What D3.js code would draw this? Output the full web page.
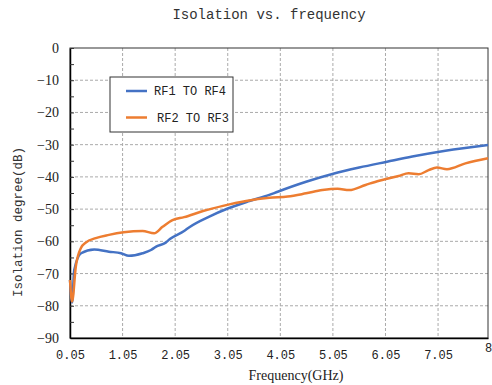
<!DOCTYPE html>
<html lang="en">
<head>
  <meta charset="UTF-8" />
  <title>Isolation vs. frequency</title>
  <script src="https://d3js.org/d3.v7.min.js"></script>
  <style>
    body { margin: 0; background: #fff; }
    .grid line { stroke: #aaa; stroke-dasharray: 3,2; stroke-width: 1; }
    .line { fill: none; stroke-width: 2.5px; stroke-linejoin: round; }
  </style>
</head>
<body>
<svg id="chart" width="492" height="385"></svg>
<script>
// RF1 TO RF4 : [GHz, dB]
const rf1rf4 = [
  [0.05, -72], [0.09, -79], [0.13, -69], [0.26, -63.7], [0.51, -62.5],
  [0.79, -63.2], [1.02, -63.7], [1.17, -64.5], [1.43, -63.7], [1.59, -62.7],
  [1.68, -61.7], [1.87, -60.4], [1.95, -59.3], [2.22, -56.8], [2.32, -55.6],
  [2.70, -52.3], [3.05, -49.8], [3.46, -47.5], [3.84, -45.6], [4.0, -44.6],
  [4.54, -41.5], [5.04, -39.1], [5.55, -37.1], [6.08, -35.3], [6.56, -33.7],
  [7.19, -31.9], [8.0, -30.1]
];
// RF2 TO RF3 : [GHz, dB]
const rf2rf3 = [
  [0.05, -72], [0.09, -78.7], [0.16, -67.9], [0.26, -62], [0.35, -60.4],
  [0.54, -59], [0.79, -58], [1.07, -57.2], [1.43, -56.8], [1.65, -57.5],
  [1.81, -55.5], [2.0, -53.4], [2.22, -52.5], [2.58, -50.6], [2.96, -49],
  [3.40, -47.5], [3.84, -46.5], [4.19, -46.1], [4.54, -45.1], [4.85, -44.1],
  [5.14, -43.7], [5.36, -44.1], [5.67, -42.5], [5.93, -41.2], [6.08, -40.6],
  [6.30, -39.7], [6.49, -38.9], [6.68, -39.2], [6.87, -37.9], [7.03, -37.1],
  [7.22, -37.6], [7.57, -35.8], [8.0, -34.2]
];
const xTicks = [0.05, 1.05, 2.05, 3.05, 4.05, 5.05, 6.05, 7.05, 8];
const yTicks = [0, -10, -20, -30, -40, -50, -60, -70, -80, -90];
const series = [
  { name: "RF1 TO RF4", data: rf1rf4, color: "#4472C4" },
  { name: "RF2 TO RF3", data: rf2rf3, color: "#ED7D31" }
];

const svg = d3.select("#chart");
const margin = { top: 48, right: 4, bottom: 47, left: 70 },
      width = 492 - margin.left - margin.right,
      height = 385 - margin.top - margin.bottom;

const x = d3.scaleLinear().domain([0.05, 8]).range([0, width]);
const y = d3.scaleLinear().domain([-90, 0]).range([height, 0]);

const g = svg.append("g").attr("transform", `translate(${margin.left},${margin.top})`);

// grid
g.append("g").attr("class", "grid")
  .selectAll("line").data(yTicks.slice(1, -1)).enter().append("line")
  .attr("x1", 0).attr("x2", width).attr("y1", d => y(d)).attr("y2", d => y(d));
g.append("g").attr("class", "grid")
  .selectAll("line").data(xTicks.slice(1, -1)).enter().append("line")
  .attr("y1", 0).attr("y2", height).attr("x1", d => x(d)).attr("x2", d => x(d));

// frame
g.append("rect").attr("width", width).attr("height", height)
  .attr("fill", "none").attr("stroke", "#333").attr("stroke-width", 1);

// y axis
const yAxis = g.append("g")
  .call(d3.axisLeft(y).tickValues(d3.range(-90, 1, 5)).tickSizeInner(-4).tickSizeOuter(0)
    .tickFormat(d => d % 10 === 0 ? (d < 0 ? "\u2212" + (-d) : d) : ""));
yAxis.select(".domain").attr("stroke", "#000").attr("stroke-width", 1.5);
yAxis.selectAll(".tick line").attr("stroke", "#333");
yAxis.selectAll("text").attr("x", -11)
  .style("font-family", "'Liberation Serif', serif").style("font-size", "14px").attr("fill", "#222");

// x axis
const xAxis = g.append("g").attr("transform", `translate(0,${height})`)
  .call(d3.axisBottom(x).tickValues(xTicks).tickSize(0).tickFormat(d => d === 8 ? "8" : d3.format(".2f")(d)));
xAxis.select(".domain").attr("stroke", "#000").attr("stroke-width", 1.5);
xAxis.selectAll("text").attr("y", 12)
  .style("font-family", "'Liberation Mono', monospace").style("font-size", "12px").attr("fill", "#222");
xAxis.selectAll(".tick").filter(d => d === 8).select("text").attr("y", 5);

// lines
const line = d3.line().x(d => x(d[0])).y(d => y(d[1])).curve(d3.curveMonotoneX);
g.selectAll(".line").data(series).enter().append("path")
  .attr("class", "line").attr("stroke", d => d.color).attr("d", d => line(d.data));

// legend
const lg = svg.append("g").attr("transform", "translate(110,77)");
lg.append("rect").attr("width", 123).attr("height", 55)
  .attr("fill", "#fff").attr("stroke", "#333").attr("stroke-width", 1);
series.forEach((s, i) => {
  const yy = 14 + i * 26.5;
  lg.append("line").attr("x1", 16).attr("x2", 37).attr("y1", yy).attr("y2", yy)
    .attr("stroke", s.color).attr("stroke-width", 2.5);
  lg.append("text").attr("x", 44 + i * 3).attr("y", yy + 4).text(s.name)
    .style("font-family", "'Liberation Mono', monospace").style("font-size", "12px").attr("fill", "#222");
});

// titles
svg.append("text").attr("x", 269).attr("y", 19).attr("text-anchor", "middle")
  .style("font-family", "'Liberation Mono', monospace").style("font-size", "14px").attr("fill", "#333")
  .text("Isolation vs. frequency");
svg.append("text").attr("x", 296).attr("y", 380).attr("text-anchor", "middle")
  .style("font-family", "'Liberation Serif', serif").style("font-size", "14px").attr("fill", "#222")
  .text("Frequency(GHz)");
svg.append("text").attr("transform", "translate(22,222) rotate(-90)").attr("text-anchor", "middle")
  .style("font-family", "'Liberation Mono', monospace").style("font-size", "12.5px").attr("fill", "#333")
  .text("Isolation degree(dB)");
</script>
</body>
</html>
